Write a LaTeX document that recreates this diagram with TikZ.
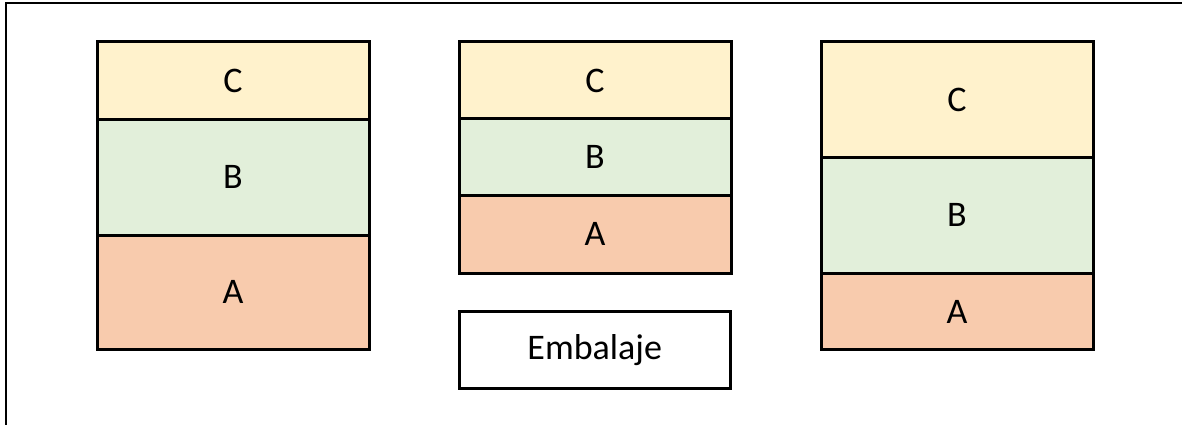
\documentclass[tikz,border=0pt]{standalone}
\usepackage{fontspec}
\setmainfont{Carlito}
\definecolor{layerC}{HTML}{FFF2CC}
\definecolor{layerB}{HTML}{E2EFDA}
\definecolor{layerA}{HTML}{F8CBAD}
\begin{document}
\begin{tikzpicture}[x=1pt,y=-1pt,
  layer/.style={draw=black, line width=3pt, anchor=north west, inner sep=0pt,
    minimum width=272pt, font=\fontsize{36}{42}\selectfont},
  cbox/.style={layer, fill=layerC},
  bbox/.style={layer, fill=layerB},
  abox/.style={layer, fill=layerA}]
\useasboundingbox (0,0) rectangle (1182,425);
% page frame (left and top edges)
\draw[line width=2.5pt] (6,425) -- (6,3) -- (1182,3);
% left stack
\node[abox, minimum height=114.5pt] (la) at (95.5,233.5) {A};
\node[bbox, minimum height=115.5pt] (lb) at (95.5,118) {B};
\node[cbox, minimum height=77.5pt] (lc) at (95.5,40.5) {C};
% middle stack
\node[abox, minimum height=77.5pt] (ma) at (457.5,194) {A};
\node[bbox, minimum height=76.5pt] (mb) at (457.5,117.5) {B};
\node[cbox, minimum height=77pt] (mc) at (457.5,40.5) {C};
% right stack
\node[abox, minimum height=76pt] (ra) at (819.5,272) {A};
\node[bbox, minimum height=116.5pt] (rb) at (819.5,155.5) {B};
\node[cbox, minimum height=115pt] (rc) at (819.5,40.5) {C};
% packaging label
\node[layer, fill=white, minimum width=270.5pt, minimum height=77pt] (emb) at (458,310) {Embalaje};
\end{tikzpicture}
\end{document}
